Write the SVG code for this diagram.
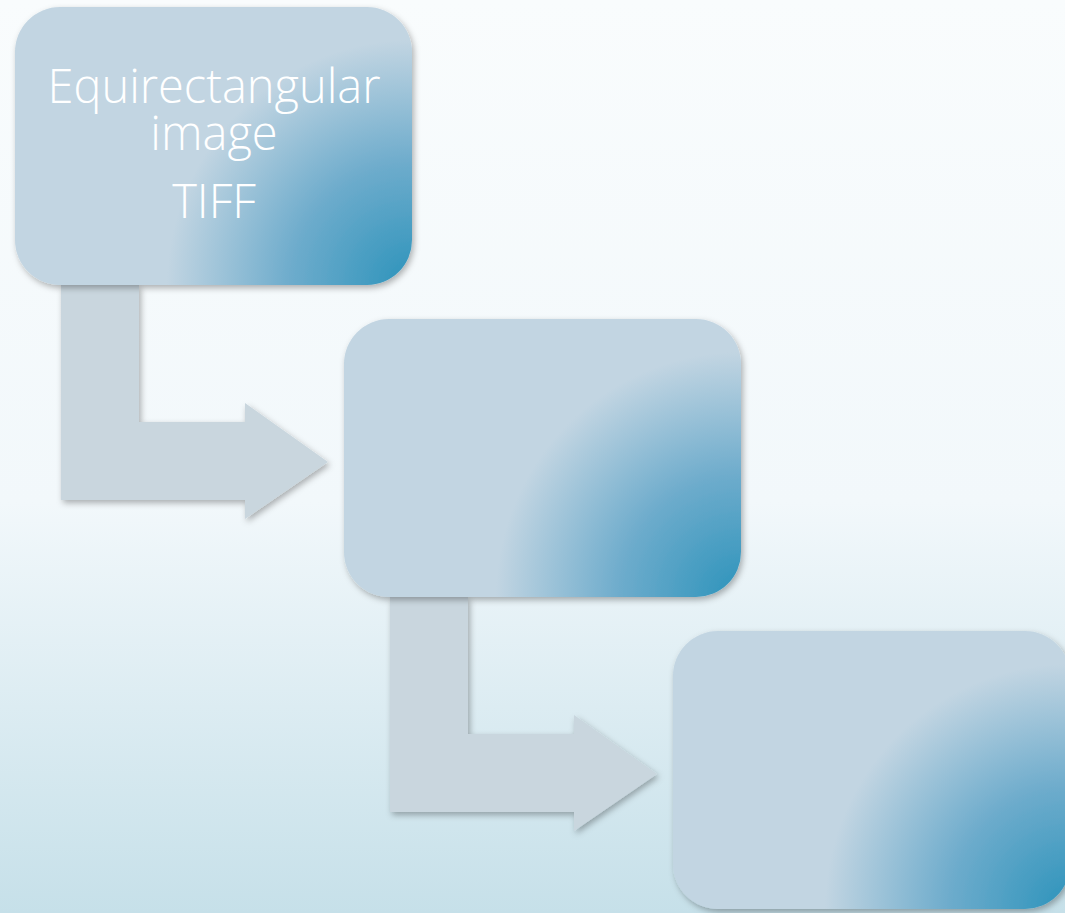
<svg xmlns="http://www.w3.org/2000/svg" width="1065" height="913" viewBox="0 0 1065 913">
<defs>
<linearGradient id="bg" x1="0" y1="0" x2="0" y2="1">
<stop offset="0" stop-color="#f9fcfd"/>
<stop offset="0.55" stop-color="#f2f8fb"/>
<stop offset="1" stop-color="#c6e0e9"/>
</linearGradient>
<radialGradient id="nodeFill" gradientUnits="userSpaceOnUse" cx="397" cy="278" r="245">
<stop offset="0" stop-color="#2c93bb"/>
<stop offset="0.5" stop-color="#6eaccc"/>
<stop offset="1" stop-color="#c2d5e2"/>
</radialGradient>
<filter id="shadow" x="-10%" y="-10%" width="125%" height="125%">
<feDropShadow dx="2" dy="3" stdDeviation="3" flood-color="#000" flood-opacity="0.3"/>
</filter>
<style>
.node{fill:url(#nodeFill);filter:url(#shadow)}
.arrow{fill:#c9d6de;filter:url(#shadow)}
.label{font-family:"Open Sans","Liberation Sans",sans-serif;font-weight:300;font-size:47px;fill:#ffffff;text-anchor:middle}
</style>
</defs>
<rect width="1065" height="913" fill="url(#bg)"/>
<g id="connectors">
<path class="arrow" d="M61,285 L139,285 L139,422 L245,422 L245,403 L328,462 L245,519 L245,500 L61,500 Z"/>
<path class="arrow" transform="translate(329,312)" d="M61,285 L139,285 L139,422 L245,422 L245,403 L328,462 L245,519 L245,500 L61,500 Z"/>
</g>
<g id="node1" transform="translate(15,7)">
<rect class="node" x="0" y="0" width="397" height="278" rx="45" ry="45"/>
<text class="label" x="199" y="96">Equirectangular</text>
<text class="label" x="199" y="143">image</text>
<text class="label" x="199" y="211">TIFF</text>
</g>
<g id="node2" transform="translate(344,319)">
<rect class="node" x="0" y="0" width="397" height="278" rx="45" ry="45"/>
</g>
<g id="node3" transform="translate(673,631)">
<rect class="node" x="0" y="0" width="397" height="278" rx="45" ry="45"/>
</g>
</svg>
